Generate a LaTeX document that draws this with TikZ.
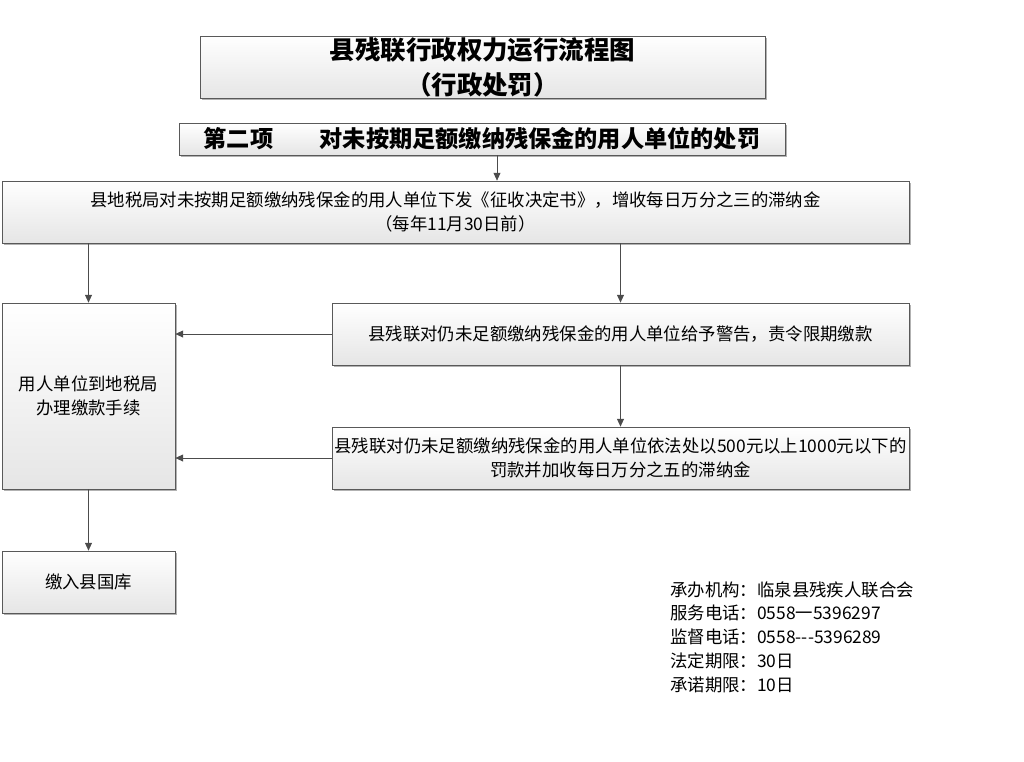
\documentclass[tikz,border=0pt]{standalone}
\usepackage{fontspec}
\setmainfont{Noto Sans CJK SC}
\usetikzlibrary{arrows.meta,shadows}

\begin{document}
\begin{tikzpicture}[x=0.02cm,y=-0.02cm,
		box/.style={draw=black!65,top color=white,bottom color=black!10,inner sep=0pt,align=center,
			drop shadow={shadow xshift=0.04cm,shadow yshift=-0.04cm,fill=black!30,opacity=1},
			font=\fontsize{9.9}{13.4}\selectfont},
		arr/.style={draw=black!70,-{Triangle[width=4pt,length=4.5pt]}}]
				\useasboundingbox (0,0) rectangle (1024,761);
				
				\node[box,minimum width=11.3cm,minimum height=1.24cm,font=\fontsize{14.5}{20}\selectfont\bfseries] (title) at (482.5,67) {县残联行政权力运行流程图\\（行政处罚）};
				\node[box,minimum width=12.12cm,minimum height=0.64cm,font=\fontsize{13.2}{16}\selectfont\bfseries] (sub) at (482,139) {第二项\hspace{2em}对未按期足额缴纳残保金的用人单位的处罚};
				
				\node[box,minimum width=18.14cm,minimum height=1.24cm] (boxA) at (455.5,212) {县地税局对未按期足额缴纳残保金的用人单位下发《征收决定书》，增收每日万分之三的滞纳金\\（每年11月30日前）};
				\node[box,minimum width=3.46cm,minimum height=3.72cm] (boxL) at (88.5,396) {用人单位到地税局\\办理缴款手续};
				\node[box,minimum width=11.54cm,minimum height=1.24cm] (boxB) at (620.5,334) {县残联对仍未足额缴纳残保金的用人单位给予警告，责令限期缴款};
				\node[box,minimum width=11.54cm,minimum height=1.24cm,font=\fontsize{9.9}{13.8}\selectfont] (boxC) at (620.5,458) {县残联对仍未足额缴纳残保金的用人单位依法处以500元以上1000元以下的\\罚款并加收每日万分之五的滞纳金};
				\node[box,minimum width=3.46cm,minimum height=1.24cm] (boxD) at (88.5,582) {缴入县国库};
				
				\coordinate (s1) at ([xshift=0.3cm]sub.south);
				\draw[arr] (s1) -- (s1 |- boxA.north);
				\draw[arr] (boxA.south -| boxL) -- (boxL);
				\draw[arr] (boxA.south -| boxB) -- (boxB);
				\draw[arr] (boxB) -- (boxC);
				\draw[arr] (boxB.west) -- (boxB.west -| boxL.east);
				\draw[arr] (boxC.west) -- (boxC.west -| boxL.east);
				\draw[arr] (boxL) -- (boxD);
				
				\node[anchor=north west,inner sep=0pt,align=left,font=\fontsize{9.9}{13.6}\selectfont] (info) at (670,581) {承办机构：临泉县残疾人联合会\\服务电话：0558一5396297\\监督电话：0558-{}-{}-5396289\\法定期限：30日\\承诺期限：10日};
			\end{tikzpicture}
\end{document}
